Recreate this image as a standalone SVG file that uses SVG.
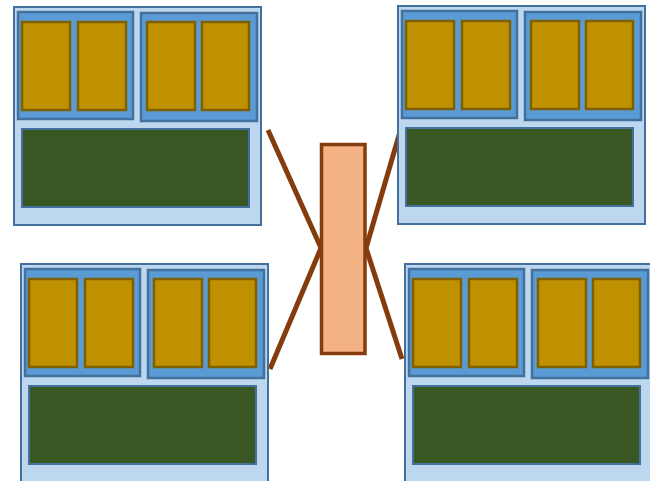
<svg xmlns="http://www.w3.org/2000/svg" width="650" height="481" viewBox="0 0 650 481">
  <style>
    .frame { fill: #bdd7ee; stroke: #41719c; stroke-width: 2; }
    .bank { fill: #5b9bd5; stroke: #41719c; stroke-width: 2.5; }
    .cell { fill: #bf9000; stroke: #7f6000; stroke-width: 2.5; }
    .base { fill: #385723; stroke: #41719c; stroke-width: 2; }
    .hub { fill: #f4b183; stroke: #843c0c; stroke-width: 3.5; }
    .link { stroke: #843c0c; stroke-width: 5; fill: none; }
  </style>
  <defs>
    <g id="module-shape">
      <rect class="frame" x="0" y="0" width="247" height="218"/>
      <rect class="bank" x="4" y="5" width="115" height="107"/>
      <rect class="bank" x="127" y="6" width="116" height="108"/>
      <rect class="cell" x="8" y="15" width="48" height="88"/>
      <rect class="cell" x="64" y="15" width="48" height="88"/>
      <rect class="cell" x="133" y="15" width="48" height="88"/>
      <rect class="cell" x="188" y="15" width="47" height="88"/>
      <rect class="base" x="8" y="122" width="227" height="78"/>
    </g>
  </defs>

  <!-- connectors from the hub to each module -->
  <g id="connectors">
    <line class="link" x1="321" y1="248" x2="268" y2="130"/>
    <line class="link" x1="321" y1="248" x2="270" y2="369"/>
    <line class="link" x1="366" y1="248" x2="402" y2="125"/>
    <line class="link" x1="366" y1="248" x2="402" y2="359"/>
  </g>

  <g id="module-top-left" transform="translate(14,7)">
    <use href="#module-shape"/>
  </g>
  <g id="module-top-right" transform="translate(398,6)">
    <use href="#module-shape"/>
  </g>
  <g id="module-bottom-left" transform="translate(21,264)">
    <use href="#module-shape"/>
  </g>
  <g id="module-bottom-right" transform="translate(405,264)">
    <use href="#module-shape"/>
  </g>

  <g id="hub">
    <rect class="hub" x="321.5" y="144.5" width="43.5" height="209"/>
  </g>
</svg>
